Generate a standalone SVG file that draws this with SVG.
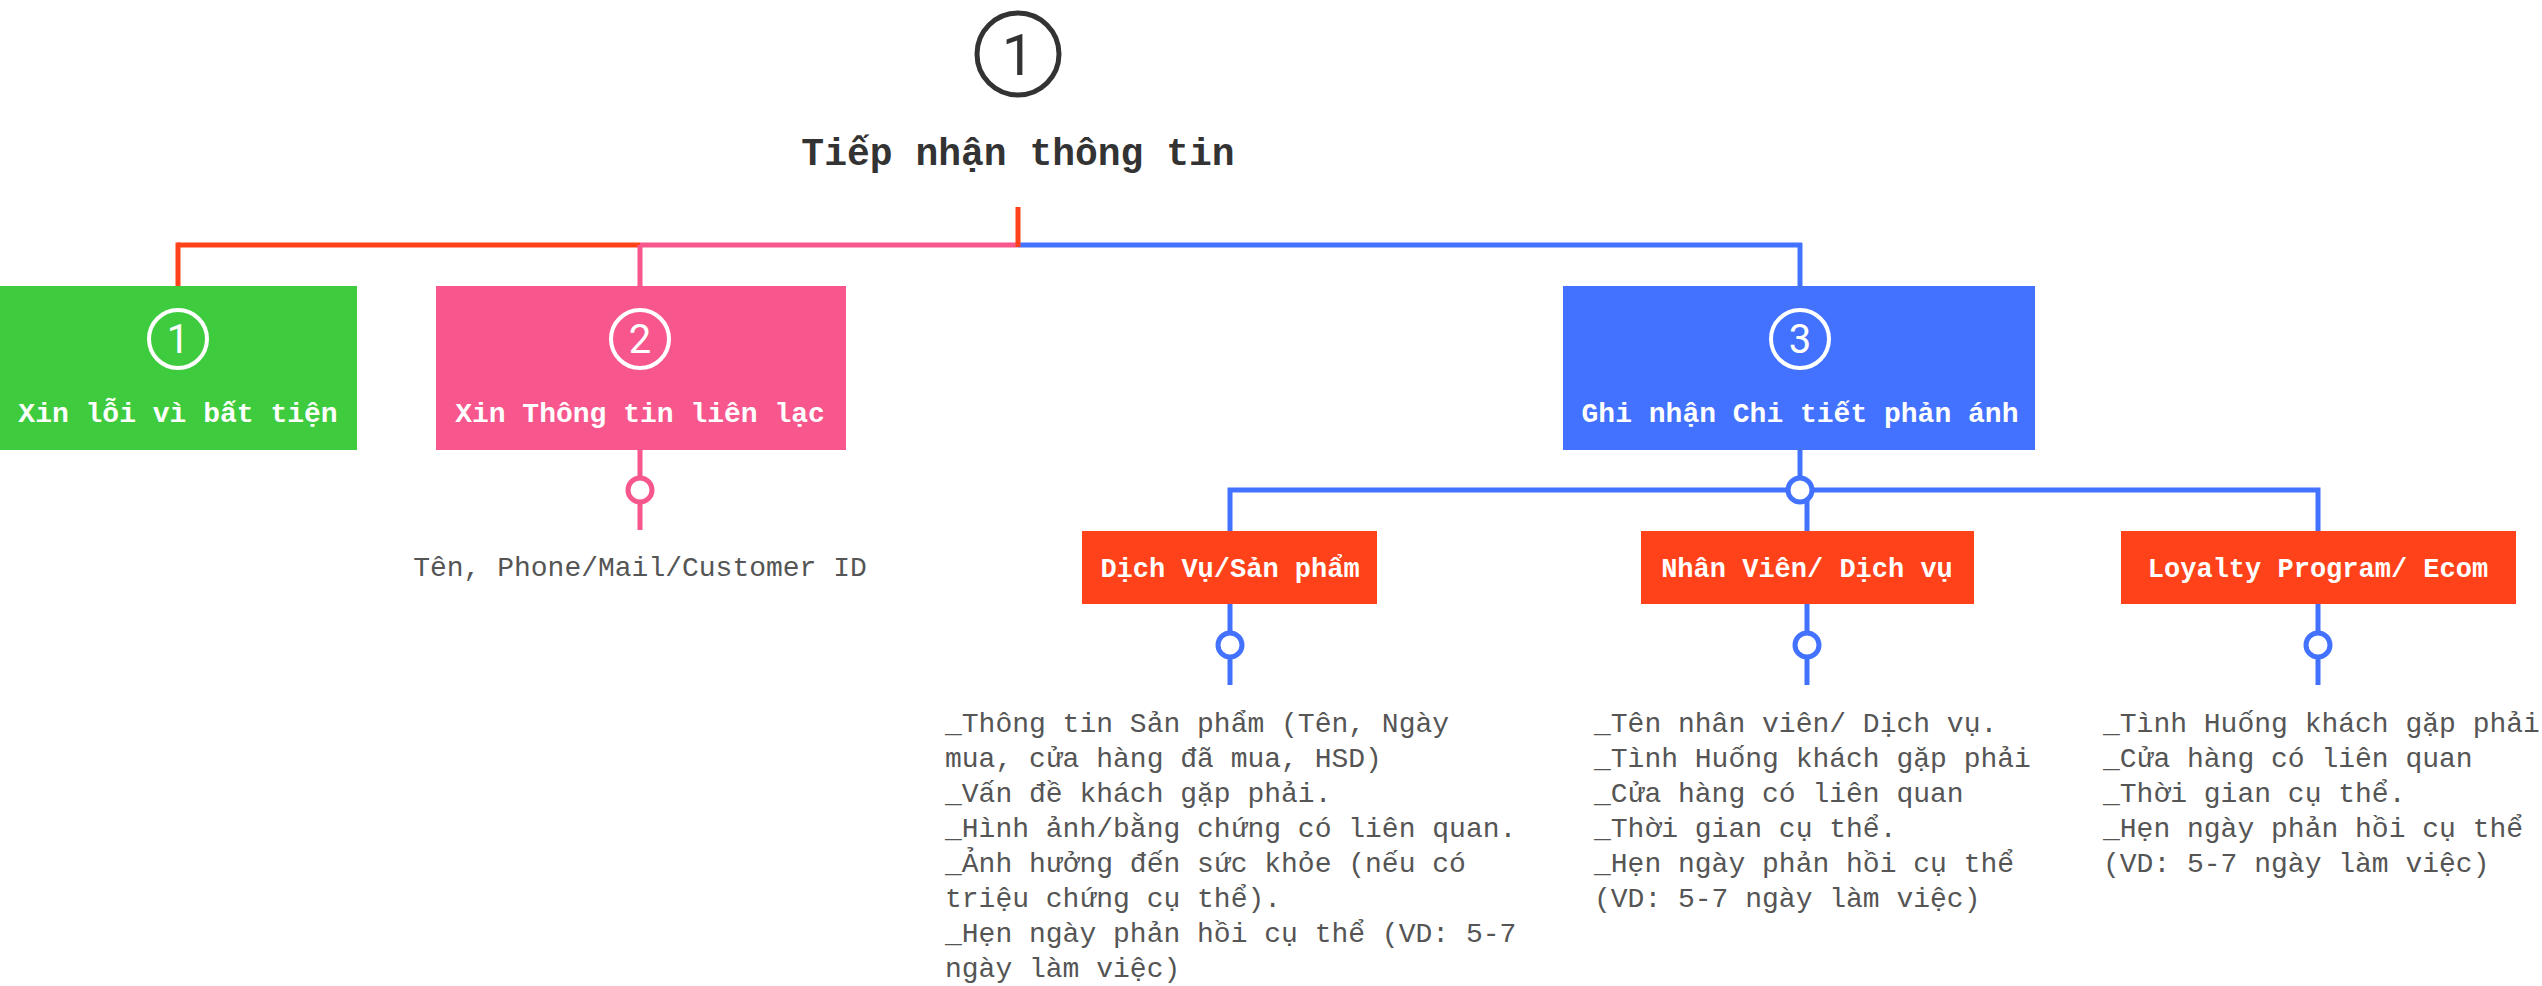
<svg xmlns="http://www.w3.org/2000/svg" width="2542" height="986" viewBox="0 0 2542 986">
<style>
.bg{fill:#ffffff}
.ln{fill:none;stroke-width:5;stroke-linecap:butt}
.red{stroke:#ff4219}
.pink{stroke:#f7578c}
.blue{stroke:#4272ff}
.dot{fill:#ffffff;stroke-width:5}
.title{font-family:"Liberation Mono","DejaVu Sans Mono",monospace;font-weight:bold;font-size:38px;fill:#333333;text-anchor:middle}
.btxt{font-family:"Liberation Mono","DejaVu Sans Mono",monospace;font-weight:bold;font-size:28px;fill:#ffffff;text-anchor:middle}
.stxt{font-family:"Liberation Mono","DejaVu Sans Mono",monospace;font-weight:bold;font-size:27px;fill:#ffffff;text-anchor:middle}
.num{font-family:Roboto,"Liberation Sans",sans-serif;font-size:40px;fill:#ffffff;text-anchor:middle}
.note{font-family:"Liberation Mono","DejaVu Sans Mono",monospace;font-size:28px;fill:#555555}
</style>
<rect class="bg" x="0" y="0" width="2542" height="986"/>
<g id="connectors">
  <line class="ln red" x1="178" y1="245" x2="640" y2="245"/>
  <line class="ln pink" x1="640" y1="245" x2="1018" y2="245"/>
  <line class="ln blue" x1="1018" y1="245" x2="1802" y2="245"/>
  <line class="ln red" x1="1018" y1="207" x2="1018" y2="247"/>
  <polyline class="ln red" points="178,286 178,245 180,245"/>
  <line class="ln pink" x1="640" y1="245" x2="640" y2="286"/>
  <line class="ln blue" x1="1800" y1="243" x2="1800" y2="286"/>
  <line class="ln pink" x1="640" y1="450" x2="640" y2="530"/>
  <circle class="dot pink" cx="640" cy="490" r="12"/>
  <line class="ln blue" x1="1800" y1="450" x2="1800" y2="490"/>
  <polyline class="ln blue" points="1230,531 1230,490 2318,490 2318,531"/>
  <line class="ln blue" x1="1807" y1="490" x2="1807" y2="531"/>
  <circle class="dot blue" cx="1800" cy="490" r="12"/>
  <line class="ln blue" x1="1230" y1="604" x2="1230" y2="685"/>
  <circle class="dot blue" cx="1230" cy="645" r="12"/>
  <line class="ln blue" x1="1807" y1="604" x2="1807" y2="685"/>
  <circle class="dot blue" cx="1807" cy="645" r="12"/>
  <line class="ln blue" x1="2318" y1="604" x2="2318" y2="685"/>
  <circle class="dot blue" cx="2318" cy="645" r="12"/>
</g>
<g id="root">
  <circle cx="1018" cy="54" r="41" fill="none" stroke="#333333" stroke-width="5"/>
  <text x="1018" y="75" font-family="Roboto,'Liberation Sans',sans-serif" font-size="58" fill="#333333" text-anchor="middle">1</text>
  <text class="title" x="1018" y="165">Ti&#x1EBF;p nh&#x1EAD;n th&#xF4;ng tin</text>
</g>
<g id="node-xin-loi">
  <rect x="0" y="286" width="357" height="164" fill="#3ecc3e"/>
  <circle cx="178" cy="339" r="29" fill="none" stroke="#ffffff" stroke-width="4"/>
  <text class="num" x="178" y="353">1</text>
  <text class="btxt" x="178" y="422">Xin l&#x1ED7;i v&#xEC; b&#x1EA5;t ti&#x1EC7;n</text>
</g>
<g id="node-xin-thong-tin">
  <rect x="436" y="286" width="410" height="164" fill="#f7578c"/>
  <circle cx="640" cy="339" r="29" fill="none" stroke="#ffffff" stroke-width="4"/>
  <text class="num" x="640" y="353">2</text>
  <text class="btxt" x="640" y="422">Xin Th&#xF4;ng tin li&#xEA;n l&#x1EA1;c</text>
</g>
<g id="note-lien-lac">
  <text class="note" x="640" y="576" text-anchor="middle">T&#xEA;n, Phone/Mail/Customer ID</text>
</g>
<g id="node-ghi-nhan">
  <rect x="1563" y="286" width="472" height="164" fill="#4272ff"/>
  <circle cx="1800" cy="339" r="29" fill="none" stroke="#ffffff" stroke-width="4"/>
  <text class="num" x="1800" y="353">3</text>
  <text class="btxt" x="1800" y="422">Ghi nh&#x1EAD;n Chi ti&#x1EBF;t ph&#x1EA3;n &#xE1;nh</text>
</g>
<g id="node-dich-vu">
  <rect x="1082" y="531" width="295" height="73" fill="#ff4219"/>
  <text class="stxt" x="1230" y="577">D&#x1ECB;ch V&#x1EE5;/S&#x1EA3;n ph&#x1EA9;m</text>
</g>
<g id="node-nhan-vien">
  <rect x="1641" y="531" width="333" height="73" fill="#ff4219"/>
  <text class="stxt" x="1807" y="577">Nh&#xE2;n Vi&#xEA;n/ D&#x1ECB;ch v&#x1EE5;</text>
</g>
<g id="node-loyalty">
  <rect x="2121" y="531" width="395" height="73" fill="#ff4219"/>
  <text class="stxt" x="2318" y="577">Loyalty Program/ Ecom</text>
</g>
<g id="note-dich-vu">
  <text class="note" x="945" y="732">_Th&#xF4;ng tin S&#x1EA3;n ph&#x1EA9;m (T&#xEA;n, Ng&#xE0;y</text>
  <text class="note" x="945" y="767">mua, c&#x1EED;a h&#xE0;ng &#x111;&#xE3; mua, HSD)</text>
  <text class="note" x="945" y="802">_V&#x1EA5;n &#x111;&#x1EC1; kh&#xE1;ch g&#x1EB7;p ph&#x1EA3;i.</text>
  <text class="note" x="945" y="837">_H&#xEC;nh &#x1EA3;nh/b&#x1EB1;ng ch&#x1EE9;ng c&#xF3; li&#xEA;n quan.</text>
  <text class="note" x="945" y="872">_&#x1EA2;nh h&#x1B0;&#x1EDF;ng &#x111;&#x1EBF;n s&#x1EE9;c kh&#x1ECF;e (n&#x1EBF;u c&#xF3;</text>
  <text class="note" x="945" y="907">tri&#x1EC7;u ch&#x1EE9;ng c&#x1EE5; th&#x1EC3;).</text>
  <text class="note" x="945" y="942">_H&#x1EB9;n ng&#xE0;y ph&#x1EA3;n h&#x1ED3;i c&#x1EE5; th&#x1EC3; (VD: 5-7</text>
  <text class="note" x="945" y="977">ng&#xE0;y l&#xE0;m vi&#x1EC7;c)</text>
</g>
<g id="note-nhan-vien">
  <text class="note" x="1594" y="732">_T&#xEA;n nh&#xE2;n vi&#xEA;n/ D&#x1ECB;ch v&#x1EE5;.</text>
  <text class="note" x="1594" y="767">_T&#xEC;nh Hu&#x1ED1;ng kh&#xE1;ch g&#x1EB7;p ph&#x1EA3;i</text>
  <text class="note" x="1594" y="802">_C&#x1EED;a h&#xE0;ng c&#xF3; li&#xEA;n quan</text>
  <text class="note" x="1594" y="837">_Th&#x1EDD;i gian c&#x1EE5; th&#x1EC3;.</text>
  <text class="note" x="1594" y="872">_H&#x1EB9;n ng&#xE0;y ph&#x1EA3;n h&#x1ED3;i c&#x1EE5; th&#x1EC3;</text>
  <text class="note" x="1594" y="907">(VD: 5-7 ng&#xE0;y l&#xE0;m vi&#x1EC7;c)</text>
</g>
<g id="note-loyalty">
  <text class="note" x="2103" y="732">_T&#xEC;nh Hu&#x1ED1;ng kh&#xE1;ch g&#x1EB7;p ph&#x1EA3;i</text>
  <text class="note" x="2103" y="767">_C&#x1EED;a h&#xE0;ng c&#xF3; li&#xEA;n quan</text>
  <text class="note" x="2103" y="802">_Th&#x1EDD;i gian c&#x1EE5; th&#x1EC3;.</text>
  <text class="note" x="2103" y="837">_H&#x1EB9;n ng&#xE0;y ph&#x1EA3;n h&#x1ED3;i c&#x1EE5; th&#x1EC3;</text>
  <text class="note" x="2103" y="872">(VD: 5-7 ng&#xE0;y l&#xE0;m vi&#x1EC7;c)</text>
</g>
</svg>
